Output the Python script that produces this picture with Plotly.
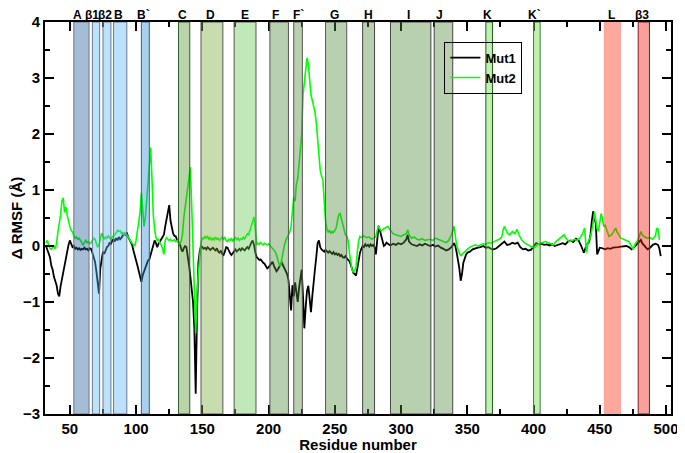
import plotly.graph_objects as go

# residue numbers and delta RMSF values
mut1_res = [32, 33, 34, 35, 36, 37, 38, 39, 40, 41, 42, 43, 44, 45, 46, 47, 48, 49, 50,
            51, 52, 53, 54, 55, 56, 57, 58, 59, 60, 61, 62, 63, 64, 65, 66, 67, 68, 69, 70,
            71, 72, 73, 74, 75, 76, 77, 78, 79, 80, 81, 82, 83, 84, 85, 86, 87, 88, 89, 90,
            91, 92, 93, 94, 95, 96, 97, 98, 99, 100, 101, 102, 103, 104, 105, 106, 107, 108, 109, 110,
            111, 112, 113, 114, 115, 116, 117, 118, 119, 120, 121, 122, 123, 124, 125, 126, 127, 128, 129, 130,
            131, 132, 133, 134, 135, 136, 137, 138, 139, 140, 141, 142, 143, 144, 145, 146, 147, 148, 149, 150,
            151, 152, 153, 154, 155, 156, 157, 158, 159, 160, 161, 162, 163, 164, 165, 166, 167, 168, 169, 170,
            171, 172, 173, 174, 175, 176, 177, 178, 179, 180, 181, 182, 183, 184, 185, 186, 187, 188, 189, 190,
            191, 192, 193, 194, 195, 196, 197, 198, 199, 200, 201, 202, 203, 204, 205, 206, 207, 208, 209, 210,
            211, 212, 213, 214, 215, 216, 217, 218, 219, 220, 221, 222, 223, 224, 225, 226, 227, 228, 229, 230,
            231, 232, 233, 234, 235, 236, 237, 238, 239, 240, 241, 242, 243, 244, 245, 246, 247, 248, 249, 250,
            251, 252, 253, 254, 255, 256, 257, 258, 259, 260, 261, 262, 263, 264, 265, 266, 267, 268, 269, 270,
            271, 272, 273, 274, 275, 276, 277, 278, 279, 280, 281, 282, 283, 284, 285, 286, 287, 288, 289, 290,
            292, 294, 296, 298, 300, 302, 304, 305, 306, 308, 310, 312, 314, 316, 318, 320,
            322, 324, 326, 328, 330, 332, 334, 336, 338, 340, 341, 342, 343, 344, 345, 346, 347, 348, 349, 350,
            352, 354, 356, 358, 360, 362, 364, 366, 368, 370, 372, 374, 376, 378, 379, 380,
            382, 384, 386, 388, 390, 392, 394, 396, 398, 400, 402, 404, 406, 408, 410, 412, 414, 416, 418, 420,
            422, 424, 426, 428, 430, 432, 434, 436, 438, 439, 440, 442, 443, 444, 445, 446, 447, 448, 449, 450,
            452, 454, 456, 458, 460, 462, 464, 466, 468, 470, 472, 474, 476, 478, 480, 481, 482, 484, 486, 488,
            490, 492, 494, 495, 496]
mut1_val = [0.0, -0.08, -0.12, -0.2, -0.35, -0.42, -0.55, -0.62, -0.7, -0.85, -0.9, -0.72, -0.6, -0.48, -0.3, -0.22, -0.1, 0.02, 0.1,
            0.05, -0.02, 0.0, -0.05, -0.03, -0.06, -0.04, -0.07, -0.05, -0.06, -0.03, -0.06, -0.05, -0.08, -0.04, -0.05, -0.12, -0.2, -0.28, -0.45,
            -0.62, -0.85, -0.4, -0.2, -0.1, -0.14, -0.06, -0.02, 0.0, 0.06, 0.03, 0.1, 0.12, 0.08, 0.14, 0.1, 0.16, 0.12, 0.15, 0.18,
            0.22, 0.2, 0.24, 0.16, 0.12, 0.06, 0.02, -0.08, -0.15, -0.26, -0.35, -0.45, -0.55, -0.64, -0.52, -0.46, -0.38, -0.32, -0.26, -0.24,
            -0.15, -0.05, 0.04, 0.1, 0.05, -0.02, 0.04, 0.08, 0.12, 0.16, 0.2, 0.35, 0.5, 0.62, 0.73, 0.45, 0.3, 0.22, 0.18, 0.17,
            0.1, 0.06, 0.04, -0.05, -0.1, -0.04, 0.0, -0.02, -0.15, -0.35, -0.55, -0.8, -1.0, -1.5, -2.64, -1.2, -0.3, -0.1, 0.0, -0.02,
            -0.05, -0.03, -0.06, -0.02, -0.04, -0.07, -0.05, -0.03, -0.06, -0.08, -0.04, -0.1, -0.12, -0.08, -0.14, -0.16, -0.1, -0.02, -0.03, -0.1,
            -0.13, -0.16, -0.12, -0.08, -0.06, -0.1, -0.07, -0.05, -0.08, -0.04, -0.06, -0.08, -0.04, -0.02, -0.05, 0.02, 0.06, 0.1, 0.02, -0.12,
            -0.2, -0.22, -0.25, -0.24, -0.28, -0.3, -0.32, -0.36, -0.4, -0.38, -0.34, -0.3, -0.28, -0.35, -0.4, -0.45, -0.42, -0.36, -0.33, -0.3,
            -0.35, -0.4, -0.45, -0.5, -0.6, -0.85, -1.15, -0.7, -0.9, -0.65, -0.8, -1.0, -0.75, -0.55, -0.42, -0.9, -1.47, -1.1, -0.8, -0.71,
            -0.95, -1.18, -0.9, -0.6, -0.42, -0.2, 0.05, 0.1, -0.02, -0.06, -0.08, -0.1, -0.07, -0.1, -0.12, -0.09, -0.12, -0.14, -0.11, -0.15,
            -0.13, -0.16, -0.14, -0.18, -0.16, -0.2, -0.21, -0.18, -0.22, -0.24, -0.27, -0.33, -0.42, -0.48, -0.5, -0.53, -0.4, -0.22, -0.12, -0.05,
            0.0, -0.02, 0.03, 0.0, 0.02, -0.01, 0.03, 0.0, 0.02, -0.02, -0.15, 0.1, 0.35, 0.28, 0.2, 0.1, 0.0, 0.02, 0.06, 0.04,
            0.01, 0.04, 0.02, 0.05, 0.03, 0.06, 0.12, 0.2, 0.08, 0.03, 0.02, 0.0, 0.03, 0.01, 0.04, 0.02,
            0.0, 0.02, -0.01, 0.01, -0.03, -0.05, -0.08, -0.06, -0.02, 0.05, 0.0, -0.12, -0.24, -0.4, -0.62, -0.5, -0.3, -0.22, -0.16, -0.12,
            -0.1, -0.06, -0.04, -0.03, -0.02, 0.0, -0.03, -0.02, -0.05, -0.06, -0.04, 0.0, 0.03, 0.08, 0.05, 0.02,
            0.03, 0.06, 0.04, 0.06, -0.02, -0.06, -0.05, -0.08, -0.07, 0.0, 0.05, 0.03, 0.04, 0.02, 0.03, 0.01, 0.03, 0.0, 0.02, 0.04,
            0.05, 0.03, 0.08, 0.1, 0.07, 0.13, 0.1, 0.0, -0.12, -0.05, 0.02, 0.08, 0.2, 0.45, 0.62, 0.5, 0.4, -0.15, -0.08, -0.03,
            -0.04, -0.06, -0.04, -0.05, -0.03, -0.03, -0.02, -0.01, 0.0, 0.0, -0.02, -0.06, -0.02, 0.04, 0.08, 0.11, 0.05, 0.0, -0.06, -0.03,
            0.02, 0.04, 0.02, -0.05, -0.18]

mut2_res = [32, 33, 34, 35, 36, 37, 38, 39, 40, 41, 42, 43, 44, 45, 46, 47, 48, 49, 50,
            51, 52, 53, 54, 55, 56, 57, 58, 59, 60, 61, 62, 63, 64, 65, 66, 67, 68, 69, 70,
            71, 72, 73, 74, 75, 76, 77, 78, 79, 80, 81, 82, 83, 84, 85, 86, 87, 88, 89, 90,
            91, 92, 93, 94, 95, 96, 97, 98, 99, 100, 101, 102, 103, 104, 105, 106, 107, 108, 109, 110,
            111, 112, 113, 114, 115, 116, 117, 118, 119, 120, 121, 122, 123, 124, 125, 126, 127, 128, 129, 130,
            131, 132, 133, 134, 135, 136, 137, 138, 139, 140, 141, 142, 143, 144, 145, 146, 147, 148, 149, 150,
            151, 152, 153, 154, 155, 156, 157, 158, 159, 160, 161, 162, 163, 164, 165, 166, 167, 168, 169, 170,
            171, 172, 173, 174, 175, 176, 177, 178, 179, 180, 181, 182, 183, 184, 185, 186, 187, 188, 189, 190,
            191, 192, 193, 194, 195, 196, 197, 198, 199, 200, 201, 202, 203, 204, 205, 206, 207, 208, 209, 210,
            211, 212, 213, 214, 215, 216, 217, 218, 219, 220, 221, 222, 223, 224, 225, 226, 227, 228, 229, 230,
            231, 232, 233, 234, 235, 236, 237, 238, 239, 240, 241, 242, 243, 244, 245, 246, 247, 248, 249, 250,
            251, 252, 253, 254, 255, 256, 257, 258, 259, 260, 261, 262, 263, 264, 265, 266, 267, 268, 269, 270,
            272, 274, 276, 278, 280, 281, 282, 283, 284, 285, 286, 288, 290, 292, 294, 296, 298, 300,
            302, 304, 305, 306, 308, 310, 312, 314, 316, 318, 320, 322, 324, 326, 328, 330, 332, 334, 336, 338,
            340, 341, 342, 344, 345, 346, 348, 350, 352, 354, 356, 358, 360, 362, 364, 366, 368, 370, 372, 374,
            376, 377, 378, 379, 380, 382, 384, 386, 387.5, 389, 391, 393, 395, 397, 399, 401, 403, 405, 407, 409,
            411, 413, 415, 417, 419, 421, 423, 425, 427, 429, 431, 433, 435, 437, 438.5, 440, 441, 443, 445, 446,
            447, 448, 449, 450, 451, 452, 453, 454, 455, 456, 457, 459, 461, 462, 463, 465, 466, 468, 470, 472,
            474, 475, 477, 479, 481, 482, 484, 486, 488, 490, 492, 493, 494, 495]
mut2_val = [0.05, 0.1, 0.02, -0.04, -0.06, -0.03, 0.0, -0.05, 0.05, 0.25, 0.4, 0.55, 0.8, 0.86, 0.6, 0.7, 0.55, 0.42, 0.35,
            0.28, 0.25, 0.18, 0.14, 0.16, 0.12, 0.14, 0.1, 0.08, 0.02, 0.06, 0.1, 0.06, 0.08, 0.04, 0.06, 0.1, 0.14, 0.12, 0.05,
            -0.02, 0.02, 0.15, 0.23, 0.18, 0.12, 0.16, 0.14, 0.18, 0.15, 0.12, 0.16, 0.18, 0.2, 0.24, 0.28, 0.26, 0.27, 0.22, 0.24,
            0.2, 0.22, 0.2, 0.16, 0.1, 0.08, 0.05, 0.02, 0.0, 0.1, 0.3, 0.45, 0.6, 0.95, 0.55, 0.35, 0.5, 0.85, 1.2, 1.55,
            1.76, 1.2, 0.55, 0.3, 0.15, 0.1, 0.12, 0.05, 0.02, -0.05, -0.15, 0.1, 0.15, 0.12, 0.1, 0.12, 0.09, 0.1, 0.11, 0.08,
            0.1, 0.06, 0.04, 0.08, 0.2, 0.5, 0.7, 0.9, 1.0, 1.2, 1.41, 0.7, -0.2, -0.9, -1.56, -0.8, -0.4, -0.2, 0.05, 0.15,
            0.12, 0.18, 0.14, 0.17, 0.12, 0.15, 0.1, 0.14, 0.11, 0.16, 0.12, 0.14, 0.1, 0.13, 0.16, 0.12, 0.15, 0.1, 0.08, 0.12,
            0.1, 0.14, 0.09, 0.12, 0.15, 0.11, 0.14, 0.1, 0.13, 0.12, 0.16, 0.13, 0.18, 0.22, 0.2, 0.28, 0.36, 0.45, 0.52, 0.3,
            0.02, 0.05, 0.03, 0.06, 0.04, 0.02, 0.05, 0.03, 0.02, 0.04, 0.01, -0.02, -0.05, -0.08, -0.1, -0.16, -0.26, -0.33, -0.36, -0.22,
            -0.12, 0.02, 0.1, 0.15, 0.18, 0.25, 0.35, 0.6, 0.87, 0.8, 1.1, 1.2, 1.5, 1.65, 2.0, 2.7, 2.95, 3.2, 3.36, 3.25,
            3.0, 2.7, 2.6, 2.5, 2.4, 2.2, 1.95, 1.7, 1.35, 1.25, 1.18, 0.8, 0.45, 0.3, 0.25, 0.28, 0.22, 0.26, 0.24, 0.28,
            0.32, 0.45, 0.56, 0.58, 0.48, 0.4, 0.25, 0.2, 0.18, 0.1, -0.12, -0.3, -0.42, -0.47, -0.43, -0.39, -0.1, 0.1, 0.17, 0.15,
            0.18, 0.15, 0.16, 0.12, 0.15, 0.17, 0.28, 0.37, 0.3, 0.27, 0.29, 0.32, 0.35, 0.28, 0.22, 0.2, 0.18, 0.17,
            0.2, 0.22, 0.29, 0.2, 0.14, 0.16, 0.12, 0.11, 0.13, 0.1, 0.11, 0.12, 0.1, 0.14, 0.12, 0.1, 0.08, 0.06, 0.1, 0.2,
            0.35, 0.2, 0.0, -0.12, -0.18, -0.15, -0.1, -0.06, -0.02, 0.0, 0.02, 0.0, 0.02, 0.04, 0.03, 0.06, 0.05, 0.08, 0.1, 0.12,
            0.16, 0.28, 0.35, 0.3, 0.24, 0.2, 0.26, 0.22, 0.3, 0.2, 0.11, 0.06, 0.03, 0.0, -0.02, -0.03, 0.02, 0.05, 0.06, 0.08,
            0.06, 0.04, 0.02, 0.08, 0.12, 0.16, 0.2, 0.12, 0.08, 0.1, 0.12, 0.1, 0.14, 0.22, 0.32, -0.12, 0.05, 0.17, 0.4, 0.61,
            0.45, 0.3, 0.26, 0.4, 0.58, 0.5, 0.35, 0.37, 0.3, 0.22, 0.17, 0.2, 0.28, 0.32, 0.25, 0.18, 0.14, 0.12, 0.1, 0.08,
            0.0, -0.06, 0.05, 0.11, 0.26, 0.2, 0.16, 0.14, 0.15, 0.12, 0.18, 0.32, 0.3, 0.11]

# secondary-structure regions along the sequence
region_names = ["A", "β1", "β2", "B", "B`", "C", "D", "E", "F", "F`", "G",
                "H", "I", "J", "K", "K`", "L", "β3"]
region_start = [53, 67, 75, 83, 104, 132, 149, 174, 201, 219, 243,
                271, 292, 325, 364, 400, 453, 479]
region_end = [64.5, 72.5, 81, 93, 110, 140.5, 165.5, 190.5, 215, 225.5, 259,
              280, 322.5, 339, 369, 405, 466, 487.5]
label_pos = [55.8, 66.8, 76.8, 86.8, 105.5, 134.8, 156.3, 182.5, 205, 222.5, 249.5,
             275.5, 305.5, 328.8, 365, 400.5, 459, 482]

blue_fill = 'rgba(90,177,245,0.4)'
olive_fill = 'rgba(78,138,58,0.4)'
region_style = {
    "A": ('rgba(30,88,150,0.4)', '#6a7888'),
    "β1": (blue_fill, '#6a7888'),
    "β2": (blue_fill, '#6a7888'),
    "B": (blue_fill, '#6a7888'),
    "B`": ('rgba(40,140,215,0.4)', '#2f5f9f'),
    "C": ('rgba(78,148,38,0.4)', '#2f5f2f'),
    "D": ('rgba(118,168,58,0.4)', '#555555'),
    "E": ('rgba(98,197,78,0.4)', '#555555'),
    "F": (olive_fill, '#555555'),
    "F`": (olive_fill, '#555555'),
    "G": (olive_fill, '#555555'),
    "H": (olive_fill, '#444444'),
    "I": (olive_fill, '#444444'),
    "J": (olive_fill, '#444444'),
    "K": ('rgba(98,218,58,0.4)', '#1f5f1f'),
    "K`": ('rgba(98,218,58,0.4)', '#3f7f3f'),
    "L": ('rgba(247,38,8,0.4)', None),
    "β3": ('rgba(237,17,0,0.4)', '#7f1f1f'),
}

font = 'Liberation Sans, Arial, sans-serif'

fig = go.Figure()
fig.add_trace(go.Scatter(x=mut1_res, y=mut1_val, mode='lines', name='Mut1',
                         line=dict(color='black', width=1.8)))
fig.add_trace(go.Scatter(x=mut2_res, y=mut2_val, mode='lines', name='Mut2',
                         line=dict(color='#00ff00', width=1.6)))

for name, x0, x1 in zip(region_names, region_start, region_end):
    fill, edge = region_style[name]
    fig.add_shape(type='rect', xref='x', yref='y', x0=x0, x1=x1, y0=-3, y1=4,
                  fillcolor=fill, layer='above',
                  line=dict(color=edge or 'rgba(0,0,0,0)', width=1 if edge else 0))

for name, xp in zip(region_names, label_pos):
    fig.add_annotation(x=xp, y=1, xref='x', yref='paper', yanchor='bottom',
                       text=name, showarrow=False, borderpad=0, yshift=-1,
                       font=dict(family=font, size=12, color='black', weight='bold'))

axis_common = dict(
    showgrid=False, zeroline=False, automargin=False,
    showline=True, linecolor='black', linewidth=2, mirror='ticks',
    ticks='inside', ticklen=9, tickwidth=2, tickcolor='black',
    ticklabeloverflow='allow',
    tickfont=dict(family=font, size=15, color='black', weight='bold'),
)
fig.update_xaxes(
    **axis_common,
    range=[31.25, 503.75], tick0=0, dtick=50,
    minor=dict(ticks='inside', ticklen=5, tickwidth=2, tickcolor='black', tick0=0, dtick=25),
    title=dict(text='Residue number', standoff=2,
               font=dict(family=font, size=15, color='black', weight='bold')),
)
fig.update_yaxes(
    **axis_common,
    range=[-3, 4], tick0=0, dtick=1,
    minor=dict(ticks='inside', ticklen=5, tickwidth=2, tickcolor='black', tick0=0, dtick=0.5),
    title=dict(text='Δ RMSF (Å)', standoff=6,
               font=dict(family=font, size=15, color='black', weight='bold')),
)
# the page body adds an 8px offset, so the figure is sized to fill the rest of the window
fig.update_layout(
    width=677, height=445,
    margin=dict(l=37, r=14, t=14, b=39),
    plot_bgcolor='white', paper_bgcolor='white',
    legend=dict(x=0.638, y=0.95, xanchor='left', yanchor='top',
                bgcolor='rgba(0,0,0,0)', bordercolor='black', borderwidth=1,
                font=dict(family=font, size=13, color='black', weight='bold'),
                tracegroupgap=0, itemwidth=30),
)

fig.write_html("out.html")
